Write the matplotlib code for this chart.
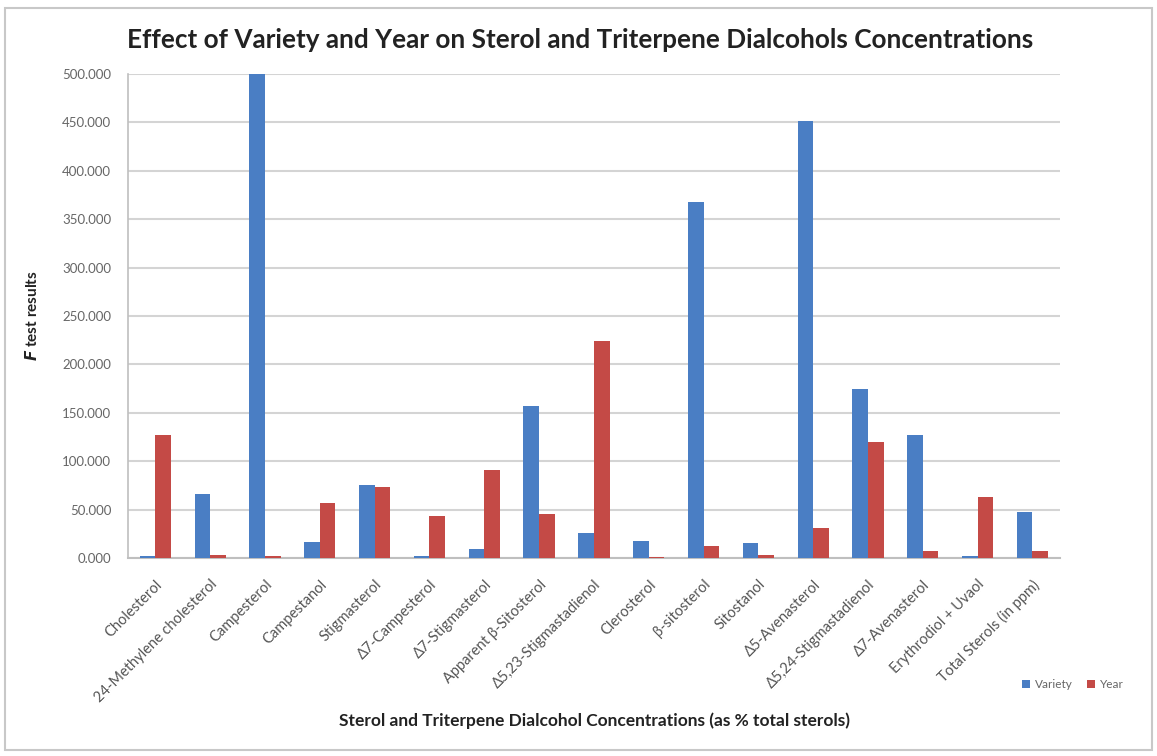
import numpy as np
import matplotlib
matplotlib.use("Agg")
import matplotlib.pyplot as plt
from matplotlib.patches import Rectangle

categories = [
    "Cholesterol", "24-Methylene cholesterol", "Campesterol", "Campestanol",
    "Stigmasterol", "Δ7-Campesterol", "Δ7-Stigmasterol", "Apparent β-Sitosterol",
    "Δ5,23-Stigmastadienol", "Clerosterol", "β-sitosterol", "Sitostanol",
    "Δ5-Avenasterol", "Δ5,24-Stigmastadienol", "Δ7-Avenasterol",
    "Erythrodiol + Uvaol", "Total Sterols (in ppm)",
]
variety = [2, 66, 500, 16, 75, 2, 9, 157, 26, 18, 368, 15, 452, 175, 127, 2, 47]
year = [127, 3, 2, 57, 73, 43, 91, 45, 224, 1, 12, 3, 31, 120, 7, 63, 7]
yticks = [0, 50, 100, 150, 200, 250, 300, 350, 400, 450, 500]

plt.rcParams["font.family"] = ["Lato", "DejaVu Sans"]

fig = plt.figure(figsize=(11.57, 7.56), dpi=100)
ax = fig.add_axes([0.1106, 0.262, 0.8054, 0.640])

x = np.arange(len(categories))
w = 0.285
ax.bar(x - w / 2, variety, width=w, color="#4A7EC4", label="Variety", zorder=3)
ax.bar(x + w / 2, year, width=w, color="#C44A46", label="Year", zorder=3)

ax.set_xlim(-0.5, len(categories) - 0.5)
ax.set_ylim(0, 500)
ax.set_yticks(yticks)
ax.set_yticklabels([f"{v:.3f}" for v in yticks], fontsize=9.5, color="#666666")
ax.yaxis.grid(True, color="#D4D4D4", linewidth=1.5, zorder=0)
ax.tick_params(axis="y", length=0, pad=12)
ax.tick_params(axis="x", length=0, pad=14)

ax.set_xticks(x)
ax.set_xticklabels(categories, rotation=45, ha="right", rotation_mode="anchor",
                   fontsize=10.5, color="#555555")

for side in ["top", "right"]:
    ax.spines[side].set_visible(False)
ax.spines["left"].set_color("#BFBFBF")
ax.spines["bottom"].set_color("#BFBFBF")
ax.spines["left"].set_linewidth(1.2)
ax.spines["bottom"].set_linewidth(1.5)

ax.set_ylabel(r"$\mathbfit{F}$ test results", fontsize=11, fontweight="bold",
              color="#222222", labelpad=16)

fig.text(0.501, 0.947,
         "Effect of Variety and Year on Sterol and Triterpene Dialcohols Concentrations",
         ha="center", va="center", fontsize=18.8, fontweight="bold", color="#222222")
fig.text(0.514, 0.047,
         "Sterol and Triterpene Dialcohol Concentrations (as % total sterols)",
         ha="center", va="center", fontsize=12.5, fontweight="bold", color="#222222")

fig.legend(loc="center", bbox_to_anchor=(0.927, 0.094), ncol=2, frameon=False,
           fontsize=8.5, handlelength=0.7, handleheight=0.7, columnspacing=1.2,
           handletextpad=0.4, labelcolor="#666666")

fig.patches.append(Rectangle((0.004, 0.008), 0.992, 0.982, transform=fig.transFigure,
                             fill=False, edgecolor="#C8C8C8", linewidth=1.5))

fig.savefig("out.png", dpi=100)
